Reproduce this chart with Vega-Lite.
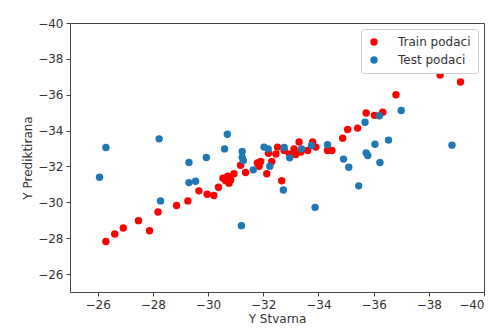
{
  "$schema": "https://vega.github.io/schema/vega-lite/v6.json",
  "autosize": "none",
  "width": 414,
  "height": 269,
  "padding": {"left": 70, "top": 23, "right": 12, "bottom": 39},
  "background": "white",
  "config": {
    "view": {"stroke": "#444", "strokeWidth": 1},
    "font": "DejaVu Sans",
    "axis": {
      "grid": false,
      "domainColor": "#444",
      "tickColor": "#444",
      "tickSize": 4,
      "labelFontSize": 12,
      "labelColor": "#333",
      "titleFontSize": 12,
      "titleFontWeight": "normal",
      "titleColor": "#333",
      "labelPadding": 3,
      "titlePadding": 3
    },
    "legend": {
      "orient": "top-right",
      "offset": 6,
      "strokeColor": "#ccc",
      "fillColor": "white",
      "padding": 7,
      "cornerRadius": 3,
      "labelFontSize": 12,
      "labelColor": "#333",
      "symbolSize": 55,
      "symbolType": "circle",
      "rowPadding": 6,
      "labelOffset": 18
    }
  },
  "data": {
    "values": [
      {"s": "Train podaci", "x": -26.30, "y": -27.82},
      {"s": "Train podaci", "x": -26.62, "y": -28.23},
      {"s": "Train podaci", "x": -26.93, "y": -28.57},
      {"s": "Train podaci", "x": -27.48, "y": -28.98},
      {"s": "Train podaci", "x": -27.88, "y": -28.42},
      {"s": "Train podaci", "x": -28.19, "y": -29.46},
      {"s": "Train podaci", "x": -28.86, "y": -29.82},
      {"s": "Train podaci", "x": -29.27, "y": -30.08},
      {"s": "Train podaci", "x": -29.67, "y": -30.64},
      {"s": "Train podaci", "x": -29.97, "y": -30.45},
      {"s": "Train podaci", "x": -30.21, "y": -30.38},
      {"s": "Train podaci", "x": -30.38, "y": -30.84},
      {"s": "Train podaci", "x": -30.54, "y": -31.34},
      {"s": "Train podaci", "x": -30.71, "y": -31.46},
      {"s": "Train podaci", "x": -30.76, "y": -31.07},
      {"s": "Train podaci", "x": -30.94, "y": -31.59},
      {"s": "Train podaci", "x": -30.82, "y": -31.25},
      {"s": "Train podaci", "x": -30.64, "y": -31.21},
      {"s": "Train podaci", "x": -31.18, "y": -32.07},
      {"s": "Train podaci", "x": -31.36, "y": -31.66},
      {"s": "Train podaci", "x": -31.79, "y": -32.20},
      {"s": "Train podaci", "x": -31.91, "y": -32.28},
      {"s": "Train podaci", "x": -31.85, "y": -32.01},
      {"s": "Train podaci", "x": -32.13, "y": -31.59},
      {"s": "Train podaci", "x": -32.19, "y": -32.74},
      {"s": "Train podaci", "x": -32.31, "y": -32.28},
      {"s": "Train podaci", "x": -32.52, "y": -33.08},
      {"s": "Train podaci", "x": -32.46, "y": -32.70},
      {"s": "Train podaci", "x": -32.67, "y": -31.20},
      {"s": "Train podaci", "x": -32.76, "y": -32.89},
      {"s": "Train podaci", "x": -33.12, "y": -32.98},
      {"s": "Train podaci", "x": -33.18, "y": -32.67},
      {"s": "Train podaci", "x": -33.30, "y": -33.36},
      {"s": "Train podaci", "x": -33.36, "y": -32.80},
      {"s": "Train podaci", "x": -33.61, "y": -32.89},
      {"s": "Train podaci", "x": -33.79, "y": -33.36},
      {"s": "Train podaci", "x": -33.91, "y": -33.08},
      {"s": "Train podaci", "x": -34.33, "y": -32.89},
      {"s": "Train podaci", "x": -34.49, "y": -32.89},
      {"s": "Train podaci", "x": -34.88, "y": -33.58},
      {"s": "Train podaci", "x": -35.06, "y": -34.06},
      {"s": "Train podaci", "x": -35.42, "y": -34.14},
      {"s": "Train podaci", "x": -35.73, "y": -34.98},
      {"s": "Train podaci", "x": -36.03, "y": -34.85},
      {"s": "Train podaci", "x": -36.33, "y": -35.03},
      {"s": "Train podaci", "x": -36.81, "y": -36.00},
      {"s": "Train podaci", "x": -38.41, "y": -37.10},
      {"s": "Train podaci", "x": -39.15, "y": -36.71},
      {"s": "Train podaci", "x": -32.95, "y": -32.70},
      {"s": "Test podaci", "x": -26.07, "y": -31.40},
      {"s": "Test podaci", "x": -26.30, "y": -33.06},
      {"s": "Test podaci", "x": -28.23, "y": -33.54},
      {"s": "Test podaci", "x": -28.28, "y": -30.08},
      {"s": "Test podaci", "x": -29.31, "y": -32.22},
      {"s": "Test podaci", "x": -29.31, "y": -31.10},
      {"s": "Test podaci", "x": -29.55, "y": -31.18},
      {"s": "Test podaci", "x": -29.94, "y": -32.50},
      {"s": "Test podaci", "x": -30.60, "y": -32.98},
      {"s": "Test podaci", "x": -30.70, "y": -33.80},
      {"s": "Test podaci", "x": -31.24, "y": -32.83},
      {"s": "Test podaci", "x": -31.24, "y": -32.52},
      {"s": "Test podaci", "x": -31.28, "y": -32.33},
      {"s": "Test podaci", "x": -31.21, "y": -28.70},
      {"s": "Test podaci", "x": -31.64, "y": -31.81},
      {"s": "Test podaci", "x": -32.03, "y": -33.08},
      {"s": "Test podaci", "x": -32.18, "y": -32.98},
      {"s": "Test podaci", "x": -32.24, "y": -32.01},
      {"s": "Test podaci", "x": -32.76, "y": -33.06},
      {"s": "Test podaci", "x": -32.73, "y": -30.69},
      {"s": "Test podaci", "x": -32.96, "y": -32.48},
      {"s": "Test podaci", "x": -33.39, "y": -32.98},
      {"s": "Test podaci", "x": -33.75, "y": -33.17},
      {"s": "Test podaci", "x": -33.88, "y": -29.72},
      {"s": "Test podaci", "x": -34.33, "y": -33.21},
      {"s": "Test podaci", "x": -34.91, "y": -32.41},
      {"s": "Test podaci", "x": -35.10, "y": -31.96},
      {"s": "Test podaci", "x": -35.46, "y": -30.92},
      {"s": "Test podaci", "x": -35.69, "y": -34.47},
      {"s": "Test podaci", "x": -35.73, "y": -32.76},
      {"s": "Test podaci", "x": -35.79, "y": -32.61},
      {"s": "Test podaci", "x": -36.05, "y": -33.24},
      {"s": "Test podaci", "x": -36.21, "y": -34.83},
      {"s": "Test podaci", "x": -36.23, "y": -32.22},
      {"s": "Test podaci", "x": -36.54, "y": -33.47},
      {"s": "Test podaci", "x": -37.00, "y": -35.12},
      {"s": "Test podaci", "x": -38.84, "y": -33.19}
    ]
  },
  "mark": {"type": "circle", "size": 55, "opacity": 1},
  "encoding": {
    "x": {
      "field": "x", "type": "quantitative", "title": "Y Stvarna",
      "scale": {"domain": [-25, -40], "nice": false, "zero": false},
      "axis": {"values": [-26, -28, -30, -32, -34, -36, -38, -40], "format": "d"}
    },
    "y": {
      "field": "y", "type": "quantitative", "title": "Y Prediktirana",
      "scale": {"domain": [-25, -40], "nice": false, "zero": false},
      "axis": {"values": [-26, -28, -30, -32, -34, -36, -38, -40], "format": "d"}
    },
    "color": {
      "field": "s", "type": "nominal", "title": null,
      "scale": {"domain": ["Train podaci", "Test podaci"], "range": ["#ff0000", "#1f77b4"]}
    },
    "order": {"field": "s", "sort": "descending"}
  }
}
